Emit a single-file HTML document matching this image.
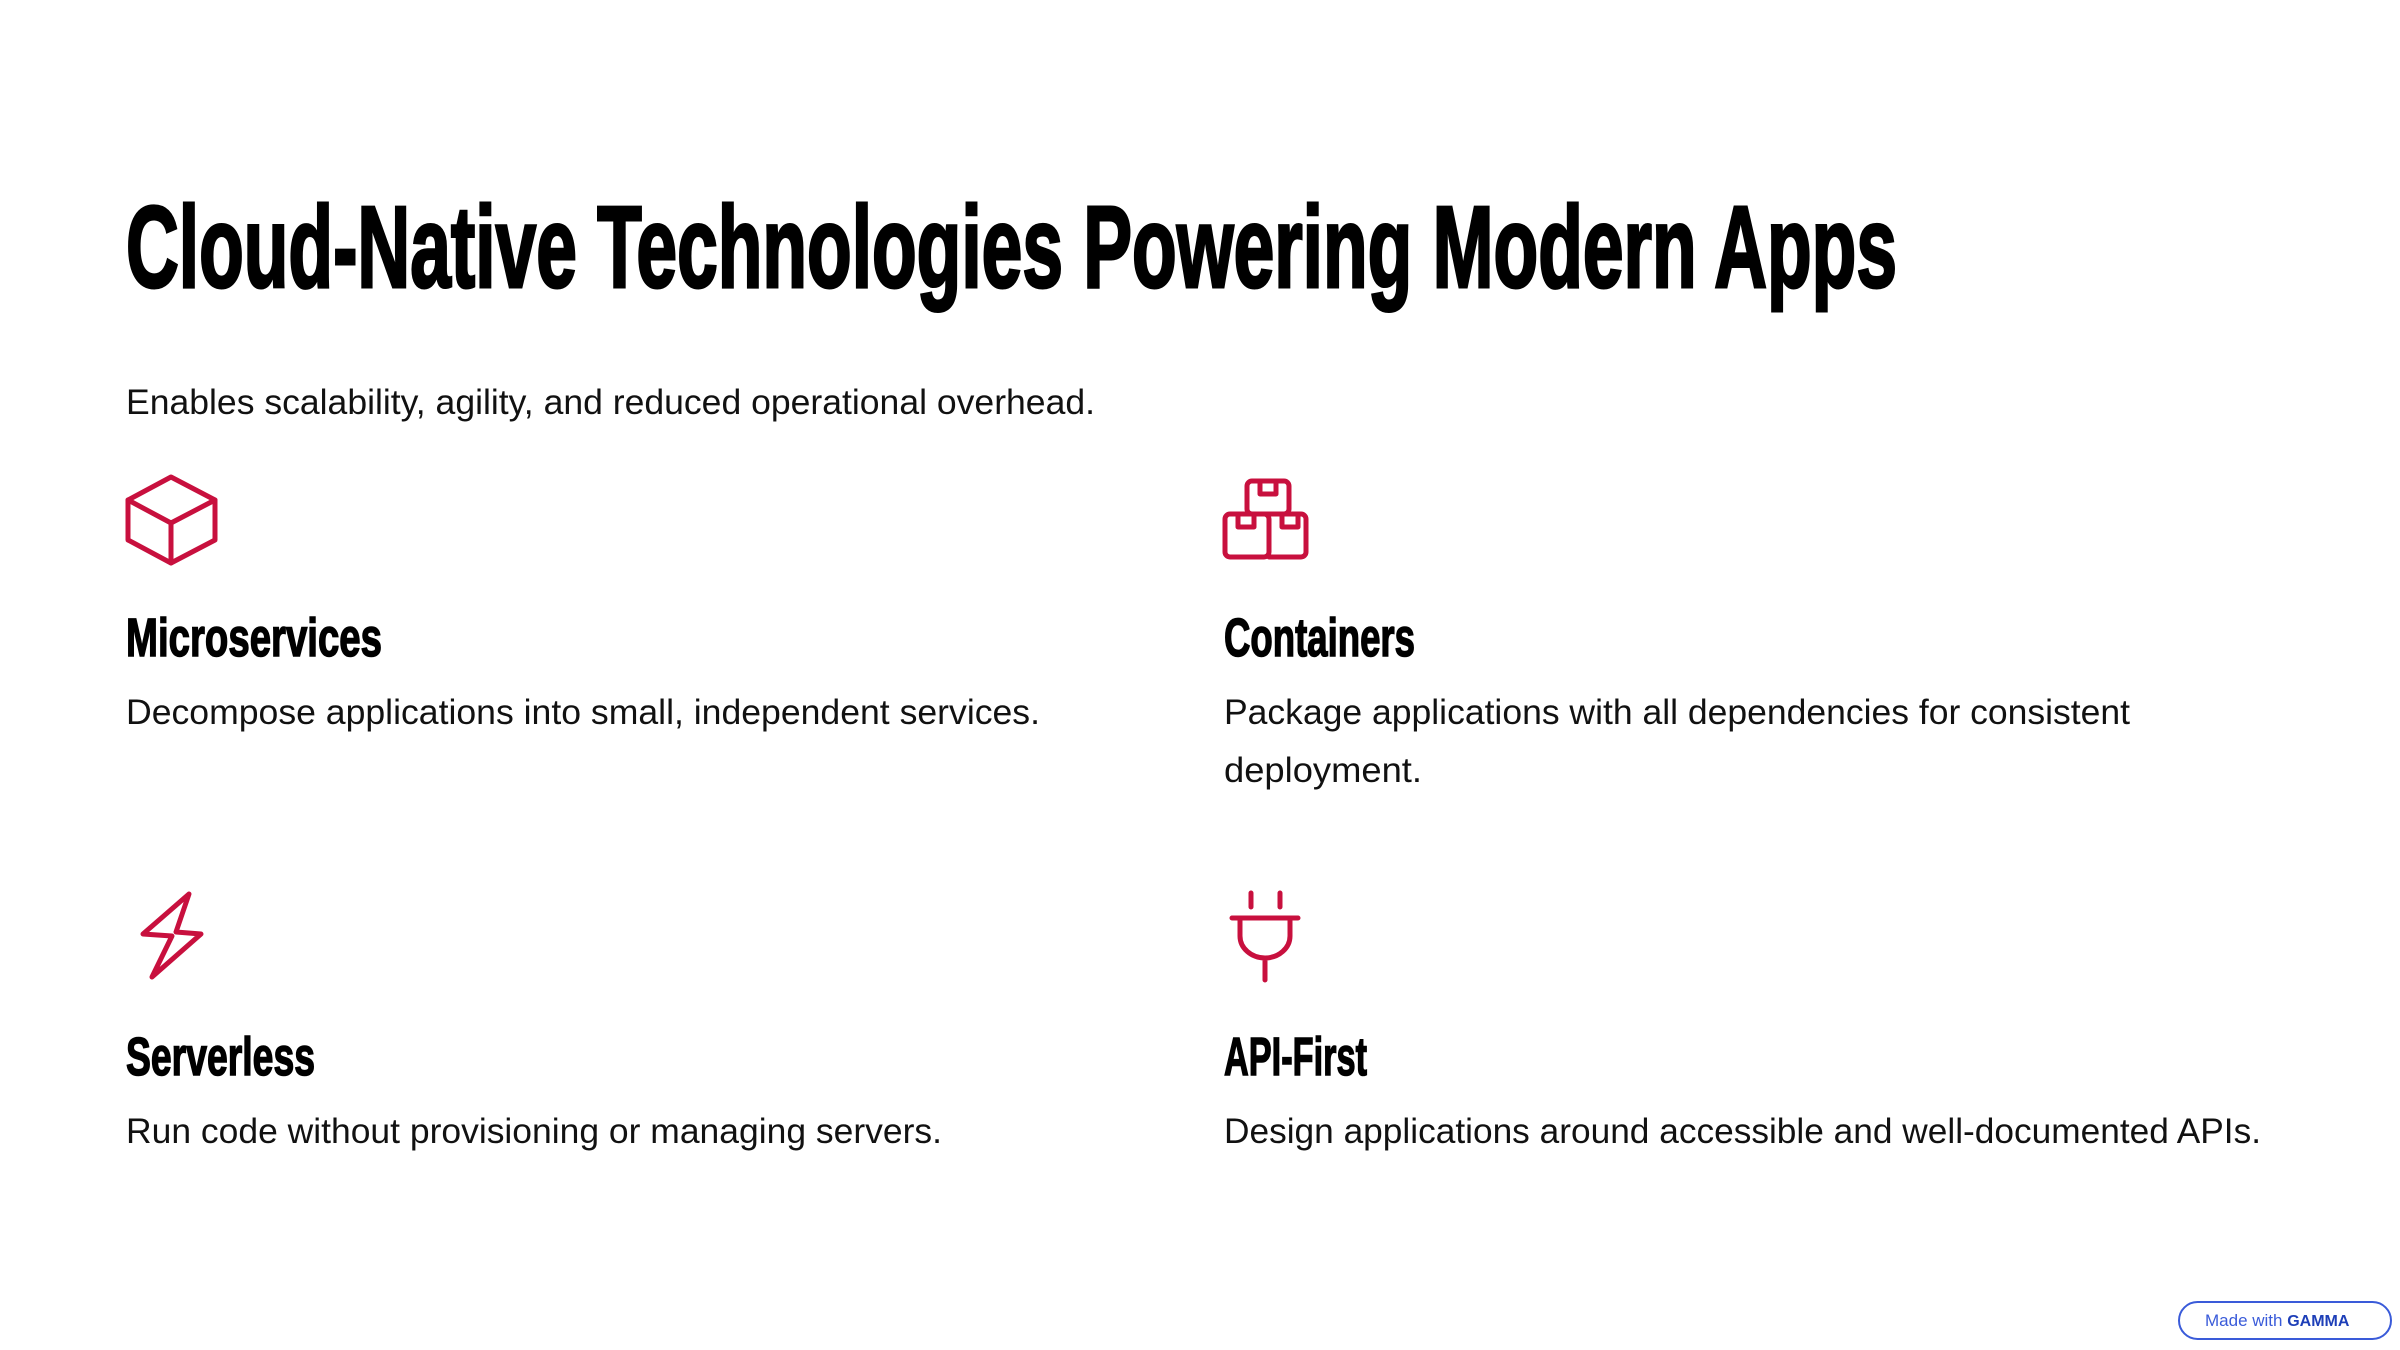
<!DOCTYPE html>
<html><head><meta charset="utf-8"><style>
html,body{margin:0;padding:0;background:#fff;}
svg{display:block;}
</style></head><body>
<svg width="2400" height="1350" viewBox="0 0 2400 1350" xmlns="http://www.w3.org/2000/svg">
<rect width="2400" height="1350" fill="#fff"/>
<g font-family="Liberation Sans, sans-serif" font-weight="bold" fill="#000" stroke="#000">
<text x="126" y="287" font-size="116" stroke-width="3" textLength="1771" lengthAdjust="spacingAndGlyphs">Cloud-Native Technologies Powering Modern Apps</text>
<text x="126" y="656" font-size="54" stroke-width="1.5" textLength="256" lengthAdjust="spacingAndGlyphs">Microservices</text>
<text x="1224" y="656" font-size="54" stroke-width="1.5" textLength="191" lengthAdjust="spacingAndGlyphs">Containers</text>
<text x="126" y="1075" font-size="54" stroke-width="1.5" textLength="189" lengthAdjust="spacingAndGlyphs">Serverless</text>
<text x="1224" y="1075" font-size="54" stroke-width="1.5" textLength="143" lengthAdjust="spacingAndGlyphs">API-First</text>
</g>
<g font-family="Liberation Sans, sans-serif" fill="#111" font-size="35">
<text x="126" y="414" textLength="969" lengthAdjust="spacingAndGlyphs">Enables scalability, agility, and reduced operational overhead.</text>
<text x="126" y="724" textLength="914" lengthAdjust="spacingAndGlyphs">Decompose applications into small, independent services.</text>
<text x="1224" y="724" textLength="906" lengthAdjust="spacingAndGlyphs">Package applications with all dependencies for consistent</text>
<text x="1224" y="782" textLength="198" lengthAdjust="spacingAndGlyphs">deployment.</text>
<text x="126" y="1143" textLength="816" lengthAdjust="spacingAndGlyphs">Run code without provisioning or managing servers.</text>
<text x="1224" y="1143" textLength="1037" lengthAdjust="spacingAndGlyphs">Design applications around accessible and well-documented APIs.</text>
</g>
<g fill="none" stroke="#c8103e" stroke-width="5" stroke-linejoin="round" stroke-linecap="round">
<path d="M171,477 L215,500 L215,540 L171,563 L128,540 L128,500 Z"/>
<path d="M128,500 L171,523 L215,500 M171,523 L171,563"/>
<rect x="1247" y="481" width="42" height="33" rx="5"/>
<path d="M1260,481 v13 h16 v-13"/>
<rect x="1225" y="514" width="44" height="43" rx="5"/>
<path d="M1238,514 v13 h16 v-13"/>
<path d="M1269,514 h32 a5,5 0 0 1 5,5 v33 a5,5 0 0 1 -5,5 h-32"/>
<path d="M1282,514 v13 h16 v-13"/>
<path d="M189,894 L143,934 L172,936 L152,977 L201,934 L176,932 Z"/>
<path d="M1251,893 v14 M1280,893 v14 M1232,918 h66 M1240,918 v18 a25,22 0 0 0 50,0 v-18 M1265,958 v22"/>
</g>
<rect x="2179" y="1302" width="212" height="37" rx="18.5" fill="#fff" stroke="#3a5bd9" stroke-width="2"/>
<text x="2205" y="1326" font-family="Liberation Sans, sans-serif" font-size="17" fill="#3a5bd9">Made with <tspan font-weight="bold" font-size="16" fill="#1e3fb8">GAMMA</tspan></text>
</svg>
</body></html>
